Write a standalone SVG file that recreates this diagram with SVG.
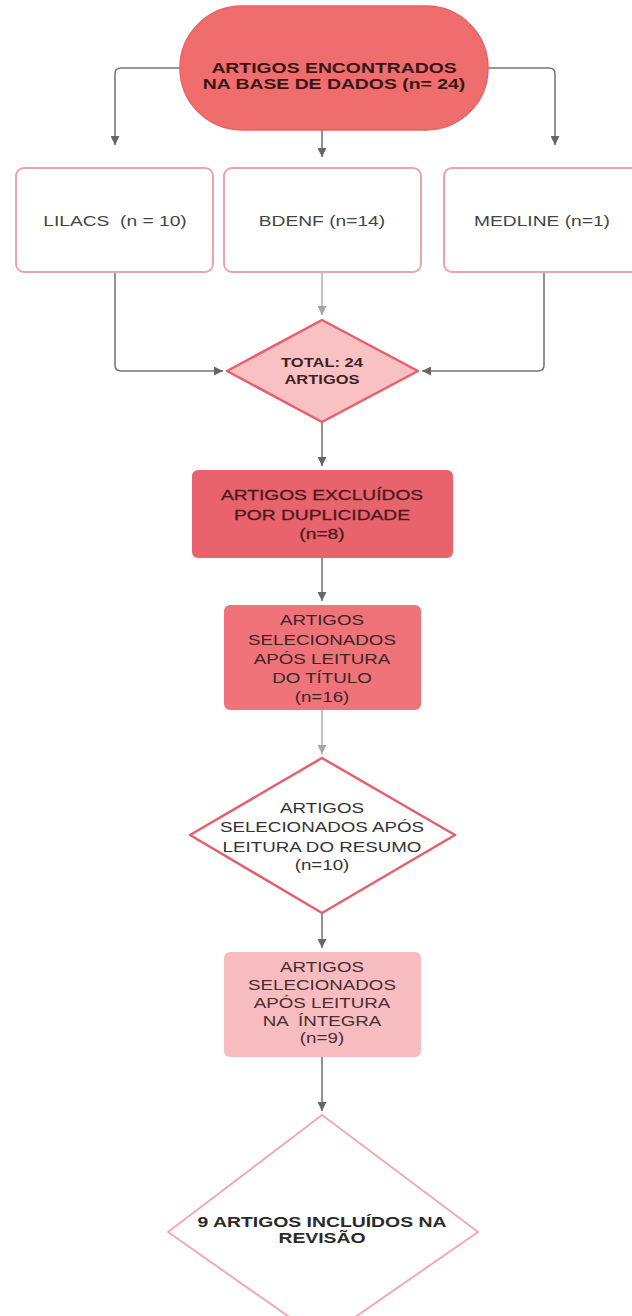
<svg xmlns="http://www.w3.org/2000/svg" width="632" height="1316" viewBox="0 0 632 1316">
<defs>
<style>
.c{fill:none;stroke:#777;stroke-width:1.6}
.cl{fill:none;stroke:#b5b5b5;stroke-width:1.6}
.t{font-family:"Liberation Sans",Arial,sans-serif;text-anchor:middle;white-space:pre}
.b{font-weight:bold}
.src{fill:#fff;stroke:#eba4a9;stroke-width:2}
</style>
<marker id="ah" viewBox="0 0 10 10" refX="10" refY="5" markerWidth="9" markerHeight="9" markerUnits="userSpaceOnUse" orient="auto">
<path d="M0,0 L10,5 L0,10 z" fill="#666"/>
</marker>
<marker id="ahl" viewBox="0 0 10 10" refX="10" refY="5" markerWidth="9" markerHeight="9" markerUnits="userSpaceOnUse" orient="auto">
<path d="M0,0 L10,5 L0,10 z" fill="#a5a5a5"/>
</marker>
</defs>
<rect x="0" y="0" width="632" height="1316" fill="#fff"/>
<g id="connectors">
<path class="c" d="M180,68 H121 Q115,68 115,74 V145" marker-end="url(#ah)"/>
<path class="c" d="M488,68 H549 Q555,68 555,74 V145" marker-end="url(#ah)"/>
<path class="c" d="M322,130 V157" marker-end="url(#ah)"/>
<path class="c" d="M115,272 V365 Q115,371 121,371 H223" marker-end="url(#ah)"/>
<path class="cl" d="M322,272 V315" marker-end="url(#ahl)"/>
<path class="c" d="M544,272 V365 Q544,371 538,371 H422" marker-end="url(#ah)"/>
<path class="c" d="M322,422 V466" marker-end="url(#ah)"/>
<path class="c" d="M322,558 V601" marker-end="url(#ah)"/>
<path class="cl" d="M322,710 V754" marker-end="url(#ahl)"/>
<path class="c" d="M322,913 V948" marker-end="url(#ah)"/>
<path class="c" d="M322,1057 V1111" marker-end="url(#ah)"/>
</g>
<g id="n-start">
<rect x="180" y="6" width="308" height="124" rx="62" fill="#ef6d6d" stroke="#e86262" stroke-width="1.5"/>
<text class="t b" font-size="15.5" fill="#3a1616" transform="translate(334,0) scale(1.25,1)"><tspan x="0" y="73">ARTIGOS ENCONTRADOS</tspan><tspan x="0" y="89">NA BASE DE DADOS (n= 24)</tspan></text>
</g>
<g id="n-lilacs">
<rect class="src" x="16" y="168" width="197" height="104" rx="8"/>
<text class="t" font-size="15" fill="#444" transform="translate(115,0) scale(1.28,1)"><tspan x="0" y="226">LILACS  (n = 10)</tspan></text>
</g>
<g id="n-bdenf">
<rect class="src" x="224" y="168" width="197" height="104" rx="8"/>
<text class="t" font-size="15" fill="#444" transform="translate(322,0) scale(1.28,1)"><tspan x="0" y="226">BDENF (n=14)</tspan></text>
</g>
<g id="n-medline">
<rect class="src" x="444" y="168" width="197" height="104" rx="8"/>
<text class="t" font-size="15" fill="#444" transform="translate(542,0) scale(1.28,1)"><tspan x="0" y="226">MEDLINE (n=1)</tspan></text>
</g>
<g id="n-total">
<polygon points="322,320 418,371 322,422 227,371" fill="#f9c1c4" stroke="#e65f6a" stroke-width="2.5" stroke-linejoin="round"/>
<text class="t b" font-size="13" fill="#3e2222" transform="translate(322,0) scale(1.27,1)"><tspan x="0" y="367">TOTAL: 24</tspan><tspan x="0" y="384">ARTIGOS</tspan></text>
</g>
<g id="n-excluidos">
<rect x="192" y="470" width="261" height="88" rx="6" fill="#e8636b"/>
<text class="t" font-size="15" fill="#4a1a1e" stroke="#4a1a1e" stroke-width="0.3" transform="translate(322,0) scale(1.28,1)"><tspan x="0" y="500">ARTIGOS EXCLUÍDOS</tspan><tspan x="0" y="520">POR DUPLICIDADE</tspan><tspan x="0" y="539">(n=8)</tspan></text>
</g>
<g id="n-titulo">
<rect x="224" y="605" width="197" height="105" rx="6" fill="#f07379"/>
<text class="t" font-size="15" fill="#3a2628" transform="translate(322,0) scale(1.25,1)"><tspan x="0" y="625">ARTIGOS</tspan><tspan x="0" y="645">SELECIONADOS</tspan><tspan x="0" y="664">APÓS LEITURA</tspan><tspan x="0" y="683">DO TÍTULO</tspan><tspan x="0" y="702">(n=16)</tspan></text>
</g>
<g id="n-resumo">
<polygon points="322,758 455,835 322,913 190,835" fill="#fff" stroke="#e4606c" stroke-width="2.5" stroke-linejoin="round"/>
<text class="t" font-size="15" fill="#333" transform="translate(322,0) scale(1.25,1)"><tspan x="0" y="813">ARTIGOS</tspan><tspan x="0" y="832">SELECIONADOS APÓS</tspan><tspan x="0" y="852">LEITURA DO RESUMO</tspan><tspan x="0" y="870">(n=10)</tspan></text>
</g>
<g id="n-integra">
<rect x="224" y="952" width="197" height="105" rx="6" fill="#f7bcc0"/>
<text class="t" font-size="15" fill="#4a2d30" transform="translate(322,0) scale(1.25,1)"><tspan x="0" y="972">ARTIGOS</tspan><tspan x="0" y="990">SELECIONADOS</tspan><tspan x="0" y="1008">APÓS LEITURA</tspan><tspan x="0" y="1026">NA  ÍNTEGRA</tspan><tspan x="0" y="1043">(n=9)</tspan></text>
</g>
<g id="n-final">
<polygon points="322,1115 478,1232 322,1340 168,1232" fill="#fff" stroke="#f2aab0" stroke-width="2" stroke-linejoin="round"/>
<text class="t b" font-size="15.5" fill="#2a2a2a" transform="translate(322,0) scale(1.25,1)"><tspan x="0" y="1227">9 ARTIGOS INCLUÍDOS NA</tspan><tspan x="0" y="1243">REVISÃO</tspan></text>
</g>
</svg>
